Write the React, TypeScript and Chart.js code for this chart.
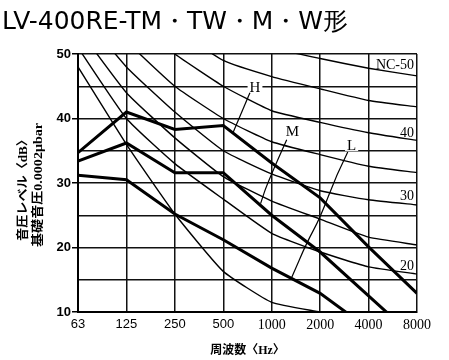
import React, { useEffect, useRef } from 'react';
import { Chart, registerables } from 'chart.js';
Chart.register(...registerables);

const TITLE = 'LV-400RE-TM・TW・M・W形';
const Y_TITLE_1 = '音圧レベル〈dB〉';
const Y_TITLE_2 = '基礎音圧0.0002μbar';
const X_TITLE = '周波数〈Hz〉';

const FREQ_LABELS = ['63', '125', '250', '500', '1000', '2000', '4000', '8000'];
const Y_MIN = 10;
const Y_MAX = 50;

// NC curves (dB per octave band)
const NC50 = [71, 64, 58, 54, 51, 49.3, 47.8, 46.6];
const NC45 = [67, 60, 54, 49, 46.5, 44.6, 42.8, 41.8];
const NC40 = [64, 56, 50, 45, 41.2, 39.4, 37.8, 36.6];
const NC35 = [60, 52, 45, 40, 36.4, 34.4, 32.6, 31.6];
const NC30 = [57, 48, 41, 35, 31.4, 28.8, 27.4, 26.6];
const NC25 = [54, 44, 37, 31, 27.2, 24.4, 21.6, 20.4];
const NC20 = [51, 40, 33, 27.5, 22.2, 19.3, 17, 15.9];
const LOW_CURVE = [48, 36, 25.2, 16.3, 11.5, 10];

// Product curves
const H_VALUES = [34.7, 41.0, 38.3, 38.9, 33.1, 27.7, 20.1, 12.9];
const M_VALUES = [33.4, 36.2, 31.6, 31.6, 25.0, 19.3, 12.5, 5.7];
const L_VALUES = [31.2, 30.5, 25.2, 21.2, 16.8, 12.9, 7.4];

const NC_LABEL_TEXT = ['NC-50', '40', '30', '20'];
const NC_LABEL_LEVEL = [47.6, 37.2, 27.4, 16.5];

const SERIES_LABELS = ['H', 'M', 'L'];
const SERIES_LABEL_X = [3.655, 4.43, 5.65];
const SERIES_LABEL_Y = [44.9, 38.0, 35.9];
const H_LEADER = [[3.55, 44.0], [3.2, 37.8]];
const M_LEADER = [[4.31, 36.7], [3.92, 30.2], [3.77, 26.8]];
const L_LEADER = [[5.57, 34.8], [5.34, 31.3], [5.0, 24.6], [4.72, 20.7], [4.41, 15.3]];
const LEADERS = [H_LEADER, M_LEADER, L_LEADER];

const toPoints = (vals: number[]) => vals.map((v, i) => ({ x: i, y: v }));

const thin = (vals: number[]) => ({
  data: toPoints(vals),
  borderColor: '#000',
  borderWidth: 1.4,
  pointRadius: 0,
  tension: 0.15,
  fill: false,
});
const thick = (vals: number[]) => ({
  data: toPoints(vals),
  borderColor: '#000',
  borderWidth: 3,
  pointRadius: 0,
  tension: 0,
  fill: false,
});

function fitText(ctx: CanvasRenderingContext2D, text: string, x: number, y: number, target: number) {
  const w = ctx.measureText(text).width;
  ctx.save();
  ctx.translate(x, y);
  ctx.scale(target / w, 1);
  ctx.fillText(text, 0, 0);
  ctx.restore();
}

const textPlugin = {
  id: 'texts',
  afterDraw(chart: any) {
    const { ctx, scales } = chart;
    const xs = scales.x;
    const ys = scales.y;
    ctx.save();
    ctx.fillStyle = '#000';
    ctx.strokeStyle = '#000';

    // Title
    ctx.font = '24px "DejaVu Sans"';
    ctx.textAlign = 'left';
    ctx.textBaseline = 'alphabetic';
    fitText(ctx, TITLE, 2, 29, 346);

    // Y axis title (two rotated lines)
    ctx.font = 'bold 12px "Liberation Serif", "Noto Sans CJK JP"';
    ctx.save();
    ctx.translate(27, 241);
    ctx.rotate(-Math.PI / 2);
    ctx.textBaseline = 'alphabetic';
    fitText(ctx, Y_TITLE_1, 0, 0, 108);
    ctx.restore();
    ctx.save();
    ctx.translate(42, 247);
    ctx.rotate(-Math.PI / 2);
    fitText(ctx, Y_TITLE_2, 0, 0, 124);
    ctx.restore();

    // X axis title
    ctx.font = 'bold 12px "Liberation Serif", "Noto Sans CJK JP"';
    ctx.textAlign = 'center';
    ctx.textBaseline = 'middle';
    ctx.fillText(X_TITLE, (xs.left + xs.right) / 2, 351);

    // NC labels
    ctx.font = '14px "Liberation Serif"';
    ctx.textAlign = 'right';
    ctx.textBaseline = 'alphabetic';
    NC_LABEL_TEXT.forEach((t, i) => {
      ctx.fillText(t, xs.getPixelForValue(7) - 3, ys.getPixelForValue(NC_LABEL_LEVEL[i]));
    });

    // Series labels with leaders
    ctx.font = '15px "Liberation Serif"';
    ctx.textAlign = 'center';
    ctx.textBaseline = 'middle';
    SERIES_LABELS.forEach((t, i) => {
      const px = xs.getPixelForValue(SERIES_LABEL_X[i]);
      const py = ys.getPixelForValue(SERIES_LABEL_Y[i]);
      const w = ctx.measureText(t).width;
      ctx.fillStyle = '#fff';
      ctx.fillRect(px - w / 2 - 2, py - 6, w + 4, 12);
      ctx.fillStyle = '#000';
      ctx.fillText(t, px, py + 1);
    });
    ctx.lineWidth = 1.2;
    LEADERS.forEach((pts) => {
      const p = pts.map(([a, b]) => [xs.getPixelForValue(a), ys.getPixelForValue(b)]);
      ctx.beginPath();
      ctx.moveTo(p[0][0], p[0][1]);
      if (p.length === 2) {
        ctx.lineTo(p[1][0], p[1][1]);
      } else {
        for (let i = 1; i < p.length - 1; i++) {
          const mx = (p[i][0] + p[i + 1][0]) / 2;
          const my = (p[i][1] + p[i + 1][1]) / 2;
          ctx.quadraticCurveTo(p[i][0], p[i][1], mx, my);
        }
        const last = p[p.length - 1];
        ctx.lineTo(last[0], last[1]);
      }
      ctx.stroke();
    });
    ctx.restore();
  },
};

export default function App() {
  const ref = useRef<HTMLCanvasElement>(null);
  useEffect(() => {
    if (!ref.current) return;
    const chart = new Chart(ref.current, {
      type: 'line',
      data: {
        datasets: [
          thin(NC50), thin(NC45), thin(NC40), thin(NC35), thin(NC30), thin(NC25), thin(NC20), thin(LOW_CURVE),
          thick(L_VALUES), thick(M_VALUES), thick(H_VALUES),
        ] as any,
      },
      options: {
        responsive: false,
        animation: false,
        devicePixelRatio: 1,
        layout: { padding: { left: 0, top: 54, right: 32, bottom: 0 } },
        plugins: { legend: { display: false }, tooltip: { enabled: false }, title: { display: false } },
        scales: {
          x: {
            type: 'linear',
            min: 0,
            max: 7,
            afterFit: (s: any) => { s.height = 48; },
            ticks: {
              stepSize: 1,
              autoSkip: false,
              maxRotation: 0,
              padding: 5,
              color: '#000',
              callback: (v: any) => FREQ_LABELS[Number(v)] ?? '',
              font: (c: any) => (c.index >= 4
                ? { family: 'Liberation Serif', size: 14 }
                : { family: 'Liberation Sans', size: 13 }),
            },
            grid: { color: '#111', lineWidth: 1.5, drawTicks: false },
            border: { display: true, color: '#000', width: 2 },
          },
          y: {
            type: 'linear',
            min: Y_MIN,
            max: Y_MAX,
            afterFit: (s: any) => { s.width = 78; },
            ticks: {
              stepSize: 5,
              padding: 1,
              color: '#000',
              callback: (v: any) => (Number(v) % 10 === 0 ? String(v) : ''),
              font: { family: 'Liberation Sans', size: 13, weight: 'bold' },
            },
            grid: {
              color: '#111',
              lineWidth: 1.5,
              tickLength: 6,
              tickColor: (c: any) => (c.tick && c.tick.value % 10 === 0 ? '#000' : 'rgba(0,0,0,0)'),
            },
            border: { display: true, color: '#000', width: 2 },
          },
        },
      } as any,
      plugins: [textPlugin],
    });
    return () => chart.destroy();
  }, []);
  return (
    <div style={{ position: 'fixed', left: 0, top: 0, width: 449, height: 360, background: '#fff' }}>
      <canvas ref={ref} width={449} height={360} style={{ display: 'block' }} />
    </div>
  );
}
